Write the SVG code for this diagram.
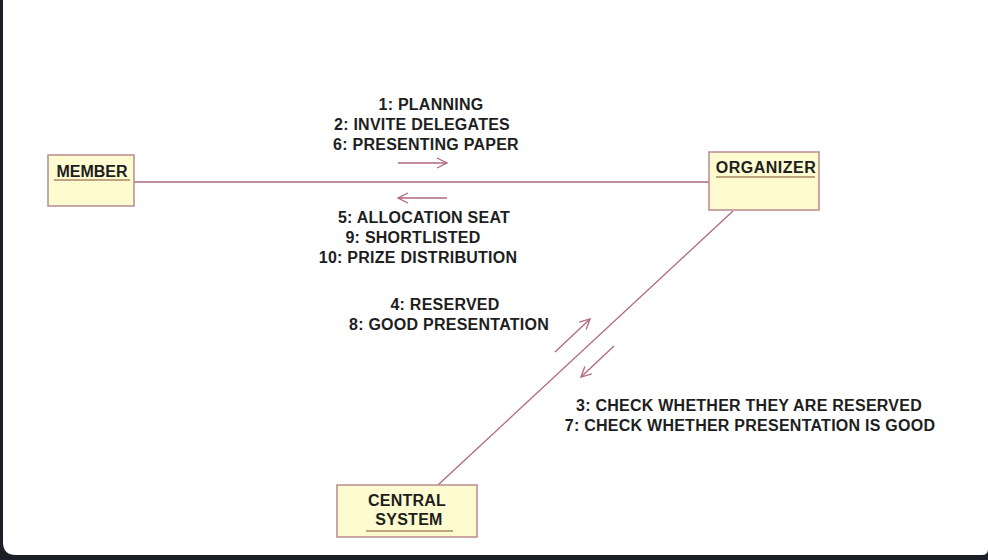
<svg xmlns="http://www.w3.org/2000/svg" width="988" height="560" viewBox="0 0 988 560">
<defs>
<style>
.box{fill:#fdfbcf;stroke:#b88a8e;stroke-width:1.5}
.lbl{font-family:"Liberation Sans",Arial,sans-serif;font-weight:bold;font-size:16px;fill:#1e1e1e;text-anchor:middle;letter-spacing:0.25px}
.ul{stroke:#a88868;stroke-width:1.5}
.conn{stroke:#b06880;stroke-width:1.3;fill:none}
.arr{stroke:#b06880;stroke-width:1.3;fill:none;marker-end:url(#open)}
</style>
<marker id="open" viewBox="0 0 12 12" refX="11" refY="6" markerWidth="12" markerHeight="12" markerUnits="userSpaceOnUse" orient="auto">
<path d="M1,1 L11,6 L1,11" fill="none" stroke="#b06880" stroke-width="1.3"/>
</marker>
</defs>
<rect x="0" y="0" width="988" height="560" fill="#1c1f26"/>
<path d="M3,0 H988 V549 Q988,555 982,555 H16 Q3,555 3,542 Z" fill="#ffffff"/>
<g id="connectors">
<line class="conn" x1="134" y1="182" x2="709" y2="182"/>
<line class="conn" x1="733" y1="211" x2="438" y2="485"/>
<line class="arr" x1="398" y1="163" x2="447" y2="163"/>
<line class="arr" x1="447" y1="198" x2="398" y2="198"/>
<line class="arr" x1="555" y1="352" x2="590" y2="319"/>
<line class="arr" x1="614" y1="346" x2="581" y2="377"/>
<g id="labels">
<text class="lbl" x="431" y="110">1: PLANNING</text>
<text class="lbl" x="422" y="130">2: INVITE DELEGATES</text>
<text class="lbl" x="426" y="150">6: PRESENTING PAPER</text>
<text class="lbl" x="424" y="223">5: ALLOCATION SEAT</text>
<text class="lbl" x="413" y="243">9: SHORTLISTED</text>
<text class="lbl" x="418" y="263">10: PRIZE DISTRIBUTION</text>
<text class="lbl" x="445" y="310">4: RESERVED</text>
<text class="lbl" x="449" y="330">8: GOOD PRESENTATION</text>
<text class="lbl" x="749" y="411">3: CHECK WHETHER THEY ARE RESERVED</text>
<text class="lbl" x="750" y="431">7: CHECK WHETHER PRESENTATION IS GOOD</text>
</g>
</g>
<g id="member">
<rect class="box" x="48" y="155" width="86" height="51"/>
<text class="lbl" x="92" y="177" style="letter-spacing:0">MEMBER</text>
<line class="ul" x1="54" y1="180" x2="130" y2="180"/>
</g>
<g id="organizer">
<rect class="box" x="709" y="152" width="110" height="58"/>
<text class="lbl" x="766" y="173" style="letter-spacing:0.5px">ORGANIZER</text>
<line class="ul" x1="716" y1="177" x2="815" y2="177"/>
</g>
<g id="central-system">
<rect class="box" x="337" y="485" width="140" height="52"/>
<text class="lbl" x="407" y="506">CENTRAL</text>
<text class="lbl" x="409" y="525">SYSTEM</text>
<line class="ul" x1="366" y1="531" x2="453" y2="531"/>
</g>
</svg>
